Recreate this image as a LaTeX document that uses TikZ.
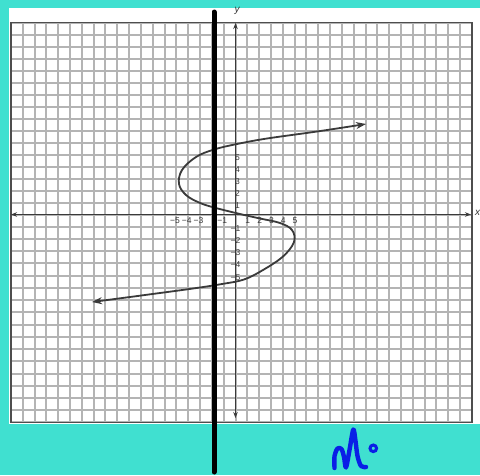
\documentclass[tikz,border=0pt]{standalone}
\usepackage{fontspec}
\setmainfont{Liberation Sans}
\usetikzlibrary{arrows.meta}
\definecolor{turq}{HTML}{40E0D0}
\definecolor{gridgray}{HTML}{B4B4B4}
\definecolor{axisgray}{HTML}{3A3A3A}
\definecolor{inkblue}{HTML}{0A1FE6}
\tikzset{
  gridline/.style={draw=gridgray, line width=1.4pt},
  borderline/.style={draw=axisgray!90, line width=1.5pt},
  axisline/.style={draw=axisgray, line width=0.9pt},
  curveline/.style={draw=axisgray, line width=1.8pt},
  tick/.style={inner sep=0pt, font=\fontsize{8.5}{9}\selectfont, text=axisgray},
}
\begin{document}
\begin{tikzpicture}[x=1pt,y=-1pt]
\useasboundingbox (0,0) rectangle (480,475);
\fill[turq] (0,0) rectangle (480,475);
\fill[white] (9,8) rectangle (480,424);
% grid
\foreach \i in {-19,...,20} \draw[gridline] ({round(235.5+11.82*\i)},22.5) -- ({round(235.5+11.82*\i)},422.5);
\foreach \j in {0,...,16} \draw[gridline] (10.9,{round(214.5-12*\j)}) -- (471.9,{round(214.5-12*\j)});
\foreach \j in {1,...,17} \draw[gridline] (10.9,{round(214.5+12.235*\j)}) -- (471.9,{round(214.5+12.235*\j)});
\draw[borderline] (10.9,22.5) rectangle (471.9,422.5);
% axes
\coordinate (xl) at (11,214.5);
\coordinate (xr) at (471,214.5);
\coordinate (yt) at (235.5,23);
\coordinate (yb) at (235.5,418);
\draw[axisline,{Stealth[length=6pt,width=4.5pt]}-{Stealth[length=6pt,width=4.5pt]}] (xl) -- (xr);
\draw[axisline,{Stealth[length=6pt,width=4.5pt]}-{Stealth[length=6pt,width=4.5pt]}] (yb) -- (yt);
\node[font=\itshape\fontsize{10}{11}\selectfont, text=axisgray, inner sep=0pt] (ylab) at (237,11) {y};
\node[font=\itshape\fontsize{10}{11}\selectfont, text=axisgray, inner sep=0pt, anchor=west] (xlab) at (475,213) {x};
% tick labels
\foreach \k in {1,...,5} \node[tick] (xp\k) at ({235.5+11.82*\k+0.5},221) {\k};
\foreach \k in {1,3,4,5} \node[tick] (xn\k) at ({235.5-11.82*\k-1.5},221) {−\k};
\foreach \k in {1,...,5} \node[tick] (yp\k) at (237.5,{214.5-12*\k+3}) {\k};
\foreach \k in {1,...,5} \node[tick] (yn\k) at (235.5,{214.5+12.235*\k+1.5}) {−\k};
% curve
\draw[curveline,{Stealth[length=10pt,width=7pt]}-{Stealth[length=10pt,width=7pt]}]
  plot[smooth,tension=0.6] coordinates {(92,302) (145,295) (193,288.5) (222,284) (244,279.5) (263,270) (283,256.5) (294,242) (292,230) (280,223) (260,218.5) (240,214) (214,207.5) (199,202.5) (186,195) (179,184) (182,170) (196,157) (214,149.5) (237,144) (267,138.5) (317,131.5) (366,124)};
% vertical line test
\coordinate (vt) at (214,12);
\coordinate (vb) at (214,472);
\draw[line width=5pt, line cap=round] (vt) -- (vb);
% handwritten No
\draw[inkblue, line width=4.4pt, line cap=round, line join=round]
  plot[smooth,tension=0.5] coordinates {(334.5,468) (334.5,456) (337.5,448.5) (341.5,449) (344,457) (346,467.5) (349.5,450) (353.3,429.5) (355.5,441) (357.5,456) (361,466) (366,467)};
\draw[inkblue, line width=3pt] (373.3,448.3) circle[radius=3.3pt];
\end{tikzpicture}
\end{document}
